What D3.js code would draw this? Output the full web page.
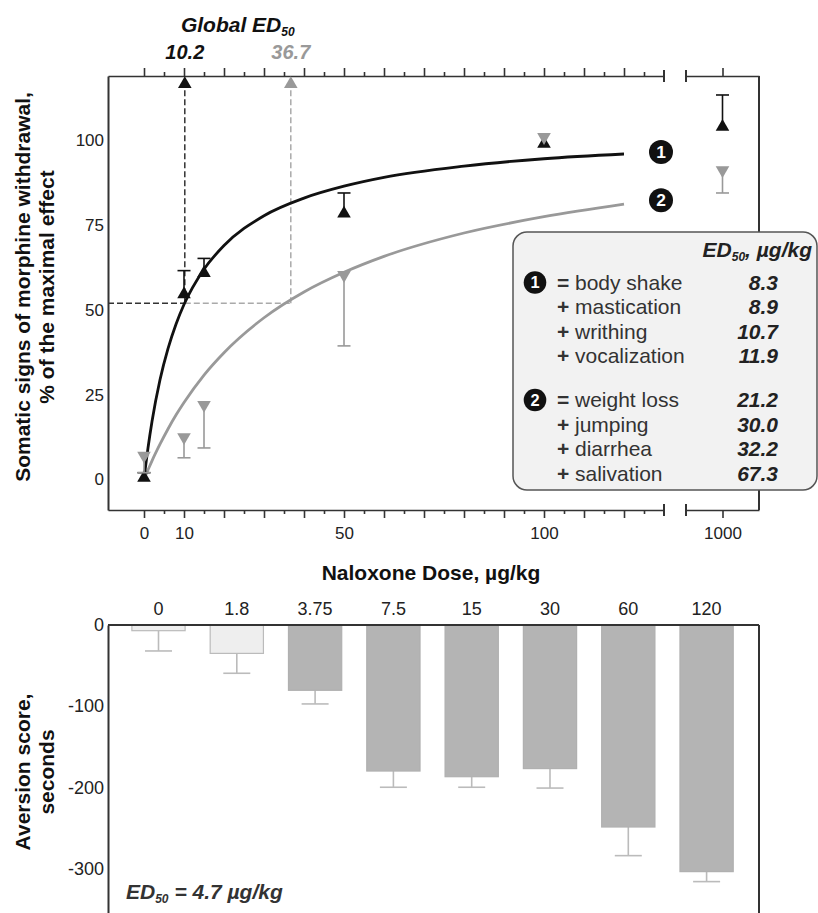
<!DOCTYPE html>
<html>
<head>
<meta charset="utf-8">
<script src="https://cdn.jsdelivr.net/npm/d3@7"></script>
<style>
  body { margin: 0; background: #fff; }
  svg { display: block; font-family: "Liberation Sans", Arial, sans-serif; }
  .axis text { fill: #222; }
</style>
</head>
<body>
<svg id="chart" width="818" height="913"></svg>
<script>
// withdrawal signs vs naloxone dose (top panel)
const doses = [0, 10, 15, 50, 100, 1000]
const group1Mean = [0.5, 54.6, 60.9, 78.4, 99, 104]
const group1Err = [1.5, 7, 4.3, 6.1, 0, 9.4]      // upper bars
const group2Mean = [7, 12.5, 22, 60.3, 101, 91.2]
const group2Err = [5, 6.1, 12.7, 20.9, 0, 6.7]    // lower bars

// fitted curves
const curveX = [0, 0.3, 1, 2, 4, 6, 8, 10, 15, 20, 30, 40, 50, 60, 80, 100, 120]
const curve1Y = [0, 3.0, 9.3, 17.1, 29.4, 38.6, 45.8, 51.6, 62.0, 69.0, 77.8, 83.0, 86.5, 89.1, 92.4, 94.6, 96.0]
const curve2Y = [0, 0.9, 2.8, 5.5, 10.4, 14.9, 19.0, 22.7, 30.8, 37.4, 47.7, 55.3, 61.1, 65.8, 72.7, 77.5, 81.2]

const globalED50 = [10.2, 36.7]
const halfEffect = 52

const group1Signs = ['body shake', 'mastication', 'writhing', 'vocalization']
const group1ED50 = ['8.3', '8.9', '10.7', '11.9']
const group2Signs = ['weight loss', 'jumping', 'diarrhea', 'salivation']
const group2ED50 = ['21.2', '30.0', '32.2', '67.3']

// aversion score (bottom panel)
const aversionDoses = ['0', '1.8', '3.75', '7.5', '15', '30', '60', '120']
const aversionMean = [-7, -35, -80.5, -180, -187, -177, -249, -304]
const aversionErr = [25, 24.5, 16.8, 20, 13, 24, 35.3, 12.3]
const aversionTicks = [0, -100, -200, -300]

const BLACK = '#111', GRAY = '#999', FRAME = '#333'

const svg = d3.select('#chart')

// ---------- top panel ----------
const pLeft = 108, pRight = 759, pTop = 76, pBottom = 510
const breakL = 664, breakR = 686

const x = d3.scaleLinear().domain([-9, 130]).range([pLeft, breakL])
const xHigh = d3.scaleLinear().domain([950, 1050]).range([breakR, pRight])
const y = d3.scaleLinear().domain([-9, 119]).range([pBottom, pTop])
const xAt = d => d >= 1000 ? xHigh(d) : x(d)

const labelled = [0, 10, 50, 100]

// bottom axis, major + minor
svg.append('g').attr('class', 'axis').attr('transform', `translate(0,${pBottom})`)
  .call(d3.axisBottom(x).tickValues(d3.range(0, 130, 10)).tickSize(8).tickSizeOuter(0).tickPadding(9)
    .tickFormat(d => labelled.includes(d) ? d : ''))
svg.append('g').attr('class', 'axis').attr('transform', `translate(0,${pBottom})`)
  .call(d3.axisBottom(x).tickValues(d3.range(5, 130, 10)).tickSize(4).tickFormat(''))
  .call(g => g.select('.domain').remove())
svg.append('g').attr('class', 'axis').attr('transform', `translate(0,${pBottom})`)
  .call(d3.axisBottom(xHigh).tickValues([1000]).tickSize(8).tickSizeOuter(0).tickPadding(9)
    .tickFormat(d => String(d)))

// top axis, ticks only
svg.append('g').attr('class', 'axis').attr('transform', `translate(0,${pTop})`)
  .call(d3.axisTop(x).tickValues(d3.range(0, 130, 10)).tickSize(8).tickSizeOuter(0).tickFormat(''))
svg.append('g').attr('class', 'axis').attr('transform', `translate(0,${pTop})`)
  .call(d3.axisTop(x).tickValues(d3.range(5, 130, 10)).tickSize(4).tickFormat(''))
  .call(g => g.select('.domain').remove())
svg.append('g').attr('class', 'axis').attr('transform', `translate(0,${pTop})`)
  .call(d3.axisTop(xHigh).tickValues([1000]).tickSize(8).tickSizeOuter(0).tickFormat(''))

svg.selectAll('.axis').selectAll('.domain, line').attr('stroke', FRAME).attr('stroke-width', 1.6)
svg.selectAll('.axis text').attr('font-size', 17)

// break markers
;[pTop, pBottom].forEach(yy => {
  ;[breakL, breakR].forEach(xx => {
    svg.append('line').attr('x1', xx).attr('x2', xx).attr('y1', yy - 6).attr('y2', yy + 6)
      .attr('stroke', FRAME).attr('stroke-width', 2)
  })
})

// left axis with labels, no ticks
svg.append('g').attr('class', 'axis yaxis').attr('transform', `translate(${pLeft},0)`)
  .call(d3.axisLeft(y).tickValues([0, 25, 50, 75, 100]).tickSize(0).tickSizeOuter(0).tickPadding(4))
  .call(g => g.select('.domain').attr('stroke', FRAME).attr('stroke-width', 2))
  .call(g => g.selectAll('text').attr('font-size', 17))

// right frame line
svg.append('line').attr('x1', pRight).attr('x2', pRight).attr('y1', pTop).attr('y2', pBottom)
  .attr('stroke', FRAME).attr('stroke-width', 2)

// y title
const yTitle = svg.append('text').attr('transform', 'translate(30,287) rotate(-90)')
  .attr('text-anchor', 'middle').attr('font-weight', 'bold').attr('font-size', 21).attr('fill', BLACK)
yTitle.append('tspan').attr('x', 0).attr('y', 0).text('Somatic signs of morphine withdrawal,')
yTitle.append('tspan').attr('x', 0).attr('y', 24).text('% of the maximal effect')

// x title
svg.append('text').attr('x', 431).attr('y', 580).attr('text-anchor', 'middle')
  .attr('font-weight', 'bold').attr('font-size', 21).attr('fill', BLACK)
  .text('Naloxone Dose, µg/kg')

// global ED50 guide lines
const dashColors = ['#333', '#aaa']
globalED50.forEach((ed, i) => {
  const startX = i === 0 ? pLeft : x(globalED50[0])
  svg.append('line').attr('x1', startX).attr('x2', x(ed)).attr('y1', y(halfEffect)).attr('y2', y(halfEffect))
    .attr('stroke', dashColors[i]).attr('stroke-width', 1.5).attr('stroke-dasharray', '6,3')
  svg.append('line').attr('x1', x(ed)).attr('x2', x(ed)).attr('y1', y(halfEffect)).attr('y2', pTop + 10)
    .attr('stroke', dashColors[i]).attr('stroke-width', 1.5).attr('stroke-dasharray', '6,3')
  svg.append('path')
    .attr('d', d3.symbol(d3.symbolTriangle, 80)())
    .attr('transform', `translate(${x(ed)},${pTop + 8})`)
    .attr('fill', i === 0 ? BLACK : GRAY)
  svg.append('text').attr('x', x(ed)).attr('y', 59).attr('text-anchor', 'middle')
    .attr('font-weight', 'bold').attr('font-style', 'italic').attr('font-size', 20)
    .attr('fill', i === 0 ? '#111' : '#999').text(ed)
})
const gTitle = svg.append('text').attr('x', (x(globalED50[0]) + x(globalED50[1])) / 2).attr('y', 32)
  .attr('text-anchor', 'middle').attr('font-weight', 'bold').attr('font-style', 'italic')
  .attr('font-size', 21).attr('fill', BLACK)
gTitle.append('tspan').text('Global ED')
gTitle.append('tspan').attr('font-size', 12).attr('dy', 4).text('50')

// fitted curves
const line = d3.line().x(d => x(d[0])).y(d => y(d[1])).curve(d3.curveMonotoneX)
svg.append('path').datum(curveX.map((v, i) => [v, curve2Y[i]]))
  .attr('d', line).attr('fill', 'none').attr('stroke', GRAY).attr('stroke-width', 2.8)
svg.append('path').datum(curveX.map((v, i) => [v, curve1Y[i]]))
  .attr('d', line).attr('fill', 'none').attr('stroke', BLACK).attr('stroke-width', 2.8)

// curve number badges
const badge = (g, cx, cy, r, n) => {
  g.append('circle').attr('cx', cx).attr('cy', cy).attr('r', r).attr('fill', BLACK)
  g.append('text').attr('x', cx).attr('y', cy + r * 0.5).attr('text-anchor', 'middle')
    .attr('font-weight', 'bold').attr('font-size', r * 1.45).attr('fill', '#fff').text(n)
}
const lastX = curveX[curveX.length - 1]
badge(svg, x(lastX) + 37, y(curve1Y[curve1Y.length - 1]) - 2, 12, '1')
badge(svg, x(lastX) + 37, y(curve2Y[curve2Y.length - 1]) - 4, 12, '2')

// error bars + markers
const cap = 6.5
const drawSeries = (means, errs, dir, color) => {
  const g = svg.append('g')
  doses.forEach((d, i) => {
    if (errs[i] > 0) {
      const y0 = y(means[i]), y1 = y(means[i] + dir * errs[i])
      g.append('line').attr('x1', xAt(d)).attr('x2', xAt(d)).attr('y1', y0).attr('y2', y1)
        .attr('stroke', color).attr('stroke-width', 1.6)
      g.append('line').attr('x1', xAt(d) - cap).attr('x2', xAt(d) + cap).attr('y1', y1).attr('y2', y1)
        .attr('stroke', color).attr('stroke-width', 1.6)
    }
    g.append('path').attr('d', d3.symbol(d3.symbolTriangle, 80)())
      .attr('transform', `translate(${xAt(d)},${y(means[i])})` + (dir < 0 ? ' rotate(180)' : ''))
      .attr('fill', color)
  })
}
drawSeries(group1Mean, group1Err, 1, BLACK)
drawSeries(group2Mean, group2Err, -1, GRAY)

// legend box
const lg = svg.append('g')
lg.append('rect').attr('x', 513).attr('y', 232).attr('width', 304).attr('height', 258).attr('rx', 14)
  .attr('fill', '#f2f2f2').attr('stroke', '#555').attr('stroke-width', 1.5)
const lh = lg.append('text').attr('x', 812).attr('y', 257).attr('text-anchor', 'end')
  .attr('font-weight', 'bold').attr('font-style', 'italic').attr('font-size', 21).attr('fill', '#222')
lh.append('tspan').text('ED')
lh.append('tspan').attr('font-size', 12).attr('dy', 4).text('50')
lh.append('tspan').attr('dy', -4).text(', µg/kg')

const rowStep = 24.5
const legendGroups = [
  { n: '1', signs: group1Signs, eds: group1ED50, y0: 282.5 },
  { n: '2', signs: group2Signs, eds: group2ED50, y0: 400 }
]
legendGroups.forEach(grp => {
  badge(lg, 535, grp.y0, 11.3, grp.n)
  grp.signs.forEach((s, i) => {
    const cy = grp.y0 + i * rowStep + 7
    lg.append('text').attr('x', 557).attr('y', cy).attr('font-size', 21).attr('fill', '#333')
      .attr('font-weight', 'bold').text(i === 0 ? '=' : '+')
    lg.append('text').attr('x', 575).attr('y', cy).attr('font-size', 21).attr('fill', '#333').text(s)
    lg.append('text').attr('x', 778).attr('y', cy).attr('text-anchor', 'end').attr('font-size', 21)
      .attr('font-weight', 'bold').attr('font-style', 'italic').attr('fill', '#222').text(grp.eds[i])
  })
})

// ---------- bottom panel ----------
const bTop = 625, bBottom = 913
const xb = d3.scaleBand().domain(aversionDoses).range([119.35, 745.75]).paddingInner(0.32).paddingOuter(0.16)
const yb = d3.scaleLinear().domain([-355, 0]).range([bBottom, bTop])

const bars = svg.append('g')
aversionDoses.forEach((d, i) => {
  const light = i < 2
  const cx = xb(d) + xb.bandwidth() / 2
  const ye = yb(aversionMean[i] - aversionErr[i])
  bars.append('line').attr('x1', cx).attr('x2', cx).attr('y1', yb(aversionMean[i])).attr('y2', ye)
    .attr('stroke', '#bbb').attr('stroke-width', 1.6)
  bars.append('line').attr('x1', cx - 13.5).attr('x2', cx + 13.5).attr('y1', ye).attr('y2', ye)
    .attr('stroke', '#bbb').attr('stroke-width', 1.6)
  bars.append('rect').attr('x', xb(d)).attr('width', xb.bandwidth())
    .attr('y', yb(0)).attr('height', yb(aversionMean[i]) - yb(0))
    .attr('fill', light ? '#eeeeee' : '#b4b4b4').attr('stroke', light ? '#bbb' : '#b0b0b0').attr('stroke-width', 1.2)
})

svg.append('g').attr('class', 'axis').attr('transform', `translate(0,${bTop})`)
  .call(d3.axisTop(xb).tickSize(0).tickPadding(10))
  .call(g => g.select('.domain').remove())
  .call(g => g.selectAll('text').attr('font-size', 18))

svg.append('g').attr('class', 'axis').attr('transform', `translate(${pLeft},0)`)
  .call(d3.axisLeft(yb).tickValues(aversionTicks).tickSize(0).tickSizeOuter(0).tickPadding(4).tickFormat(d => String(d)))
  .call(g => g.select('.domain').attr('stroke', FRAME).attr('stroke-width', 2))
  .call(g => g.selectAll('text').attr('font-size', 18))

svg.append('line').attr('x1', pLeft).attr('x2', pRight).attr('y1', bTop).attr('y2', bTop)
  .attr('stroke', FRAME).attr('stroke-width', 2.2)
svg.append('line').attr('x1', pRight).attr('x2', pRight).attr('y1', bTop).attr('y2', bBottom)
  .attr('stroke', FRAME).attr('stroke-width', 2)

const yTitle2 = svg.append('text').attr('transform', 'translate(30,772) rotate(-90)')
  .attr('text-anchor', 'middle').attr('font-weight', 'bold').attr('font-size', 21).attr('fill', BLACK)
yTitle2.append('tspan').attr('x', 0).attr('y', 0).text('Aversion score,')
yTitle2.append('tspan').attr('x', 0).attr('y', 24).text('seconds')

const edNote = svg.append('text').attr('x', 126).attr('y', 899)
  .attr('font-weight', 'bold').attr('font-style', 'italic').attr('font-size', 21).attr('fill', '#333')
edNote.append('tspan').text('ED')
edNote.append('tspan').attr('font-size', 12).attr('dy', 4).text('50')
edNote.append('tspan').attr('dy', -4).text(' = 4.7 µg/kg')
</script>
</body>
</html>
